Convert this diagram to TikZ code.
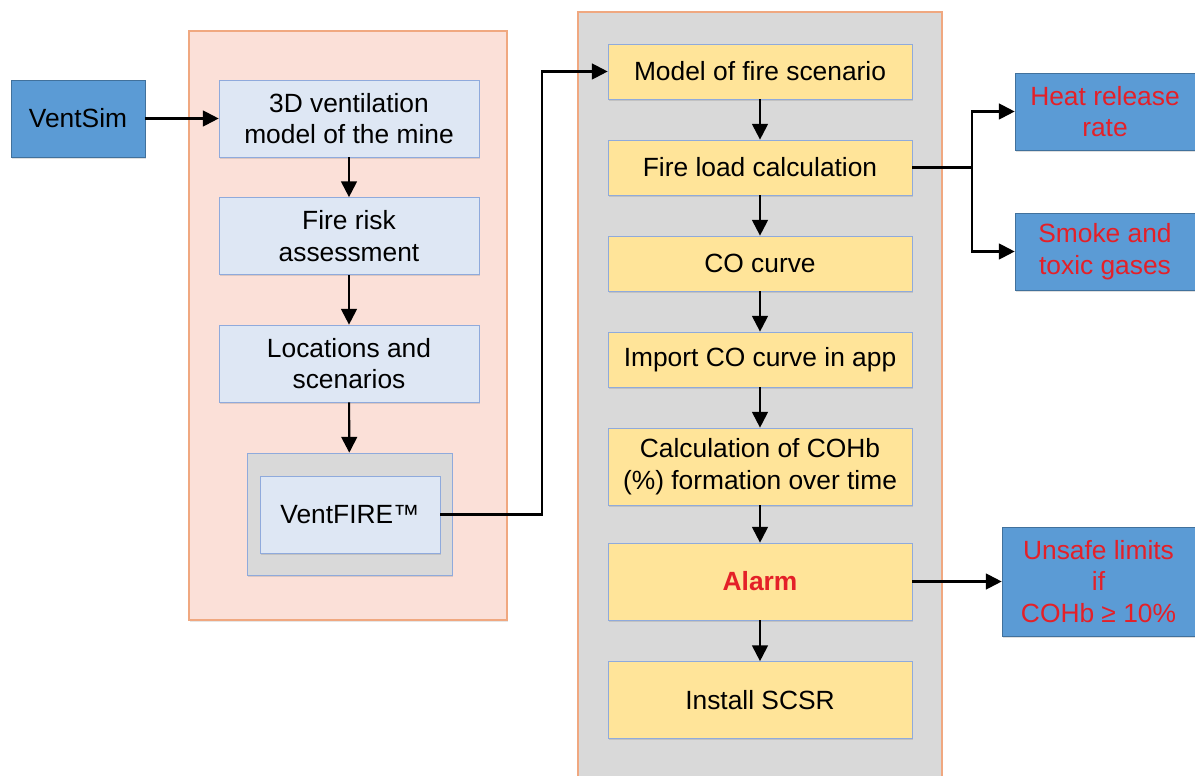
\documentclass[tikz,border=0pt]{standalone}
\usepackage{fontspec}
\setmainfont{Liberation Sans}
\usetikzlibrary{arrows.meta,shadows}
\definecolor{darkblue}{RGB}{91,155,213}
\definecolor{darkblueline}{RGB}{65,113,156}
\definecolor{paleblue}{RGB}{222,231,244}
\definecolor{palebluelineb}{RGB}{143,170,220}
\definecolor{paleyellow}{RGB}{255,228,153}
\definecolor{pinkbg}{RGB}{251,224,216}
\definecolor{pinkline}{RGB}{240,168,128}
\definecolor{greybg}{RGB}{217,217,217}
\definecolor{alarmred}{RGB}{228,32,40}
\tikzset{
  shad/.style={drop shadow={shadow xshift=0.7pt,shadow yshift=-0.9pt,opacity=0.25}},
  toolbox/.style={rectangle,draw=darkblueline,fill=darkblue,shad,align=center,
    minimum width=2.68cm,minimum height=1.54cm,inner sep=2pt},
  outbox/.style={toolbox,text=alarmred,minimum width=3.6cm},
  stepbox/.style={rectangle,draw=palebluelineb,fill=paleblue,shad,align=center,
    minimum width=5.2cm,minimum height=1.54cm,inner sep=2pt},
  firebox/.style={rectangle,draw=palebluelineb,fill=paleyellow,shad,align=center,
    minimum width=6.08cm,minimum height=1.1cm,inner sep=2pt},
  arr/.style={-{Triangle[length=9pt,width=9pt]},line width=1.2pt},
  ln/.style={line width=1.2pt}
}

\begin{document}
\begin{tikzpicture}[x=0.02cm,y=-0.02cm,
  every node/.style={font=\fontsize{15}{18}\selectfont}]
\useasboundingbox (0,0) rectangle (1195,776);

% Background panels
\fill[pinkbg,drop shadow={shadow xshift=0.7pt,shadow yshift=-0.9pt,opacity=0.2}]
  (189,31) rectangle (507,620);
\draw[pinkline,line width=0.8pt] (189,31) rectangle (507,620);
\fill[greybg] (578,12) rectangle (942,790);
\draw[pinkline,line width=0.8pt] (578,790) -- (578,12) -- (942,12) -- (942,790);

% Left column
\node[toolbox] (ventsim) at (78,118.5) {VentSim};
\node[stepbox] (model3d) at (349,118.5) {3D ventilation\\model of the mine};
\node[stepbox] (risk) at (349,236) {Fire risk\\assessment};
\node[stepbox] (loc) at (349,363.5) {Locations and\\scenarios};
\node[rectangle,draw=palebluelineb,fill=greybg,shad,
  minimum width=4.1cm,minimum height=2.44cm] (vfout) at (349.5,514) {};
\node[stepbox,minimum width=3.6cm] (vf) at (350,514.5) {VentFIRE™};

% Middle column
\node[firebox] (scen) at (760,71.5) {Model of fire scenario};
\node[firebox] (load) at (760,167.5) {Fire load calculation};
\node[firebox] (cocurve) at (760,263.5) {CO curve};
\node[firebox] (import) at (760,359.5) {Import CO curve in app};
\node[firebox,minimum height=1.54cm] (cohb) at (760,466.5)
  {Calculation of COHb\\(\%) formation over time};
\node[firebox,minimum height=1.54cm,text=alarmred,font=\fontsize{15}{18}\selectfont\bfseries]
  (alarm) at (760,581.5) {Alarm};
\node[firebox,minimum height=1.54cm] (scsr) at (760,700) {Install SCSR};

% Right column
\node[outbox] (heat) at (1105,111.5) {Heat release\\rate};
\node[outbox] (smoke) at (1105,251.5) {Smoke and\\toxic gases};
\node[outbox,minimum width=3.86cm,minimum height=2.18cm] (unsafe) at (1098.5,581.5)
  {Unsafe limits\\if\\COHb ≥ 10\%};

% Junction points
\coordinate (jA) at (542,0);
\coordinate (jB) at (972,0);

% Connectors
\draw[arr] (ventsim) -- (model3d);
\draw[arr] (model3d) -- (risk);
\draw[arr] (risk) -- (loc);
\draw[arr] (loc) -- (vfout);
\draw[arr] (vf.east) -- (vf.east -| jA) |- (scen.west);
\foreach \i/\j in {scen/load,load/cocurve,cocurve/import,import/cohb,cohb/alarm,alarm/scsr}
{
  \draw[arr] (\i) -- (\j);
}
\draw[ln] (load.east) -- (load.east -| jB);
\draw[arr] (load.east -| jB) |- (heat.west);
\draw[arr] (load.east -| jB) |- (smoke.west);
\draw[arr] (alarm) -- (unsafe);

\end{tikzpicture}
\end{document}
